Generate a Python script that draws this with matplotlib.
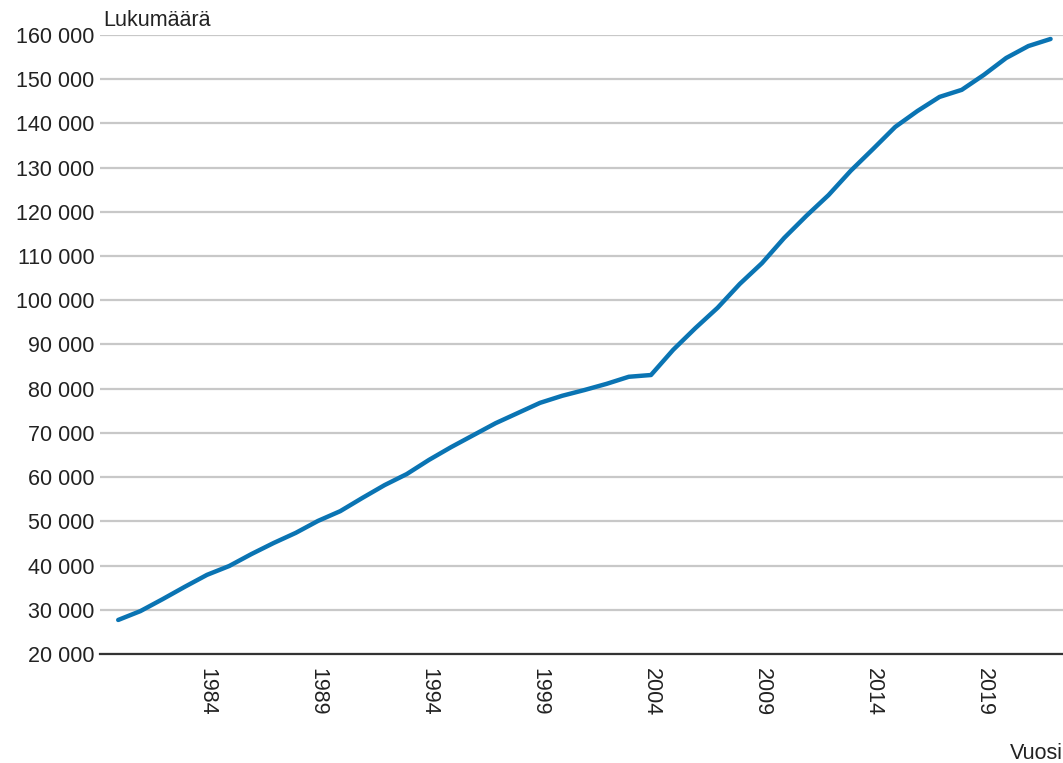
import matplotlib
matplotlib.use("Agg")
import matplotlib.pyplot as plt
from matplotlib.ticker import FuncFormatter

years = list(range(1980, 2023))
values = [27700, 29700, 32400, 35200, 37900, 39900, 42600, 45100, 47400, 50100,
          52300, 55300, 58200, 60700, 63900, 66800, 69500, 72200, 74500, 76800,
          78400, 79700, 81100, 82700, 83100, 88800, 93700, 98300, 103700, 108400,
          114100, 119100, 123800, 129300, 134200, 139200, 142800, 146000, 147600, 151000,
          154800, 157500, 159100]
xticks = [1984, 1989, 1994, 1999, 2004, 2009, 2014, 2019]
yticks = list(range(20000, 160001, 10000))

plt.rcParams['font.family'] = ['Liberation Sans', 'DejaVu Sans']

fig = plt.figure(figsize=(10.63, 7.63), dpi=100)
W, H = 1063, 763
ax = fig.add_axes([100 / W, 1 - 654 / H, 1 - 100 / W, (654 - 35) / H])

ax.plot(years, values, color='#0a74b3', lw=3.2, solid_capstyle='round', solid_joinstyle='round', zorder=3)

ax.set_xlim(1979.18, 2022.56)
ax.set_ylim(20000, 160000)
ax.set_yticks(yticks)
ax.yaxis.set_major_formatter(FuncFormatter(lambda v, p: f"{int(v):,}".replace(",", " ")))
ax.set_xticks(xticks)
ax.set_xticklabels([str(x) for x in xticks], rotation=270, va='top', ha='center')

ax.grid(axis='y', color='#c8c8c8', lw=1.6)
ax.set_axisbelow(True)
for s in ['top', 'right', 'left']:
    ax.spines[s].set_visible(False)
ax.spines['bottom'].set_color('#333333')
ax.spines['bottom'].set_linewidth(1.6)
ax.spines['bottom'].set_zorder(2)

ax.tick_params(axis='y', length=0, pad=4, labelsize=15.5, labelcolor='#222222')
ax.tick_params(axis='x', length=0, pad=10, labelsize=15.5, labelcolor='#222222')

fig.text(103 / W, 1 - 26 / H, "Lukumäärä", fontsize=15.5, color='#222222', ha='left', va='baseline')
fig.text(1010 / W, 1 - 759 / H, "Vuosi", fontsize=15.5, color='#222222', ha='left', va='baseline')

fig.savefig("out.png", dpi=100)
